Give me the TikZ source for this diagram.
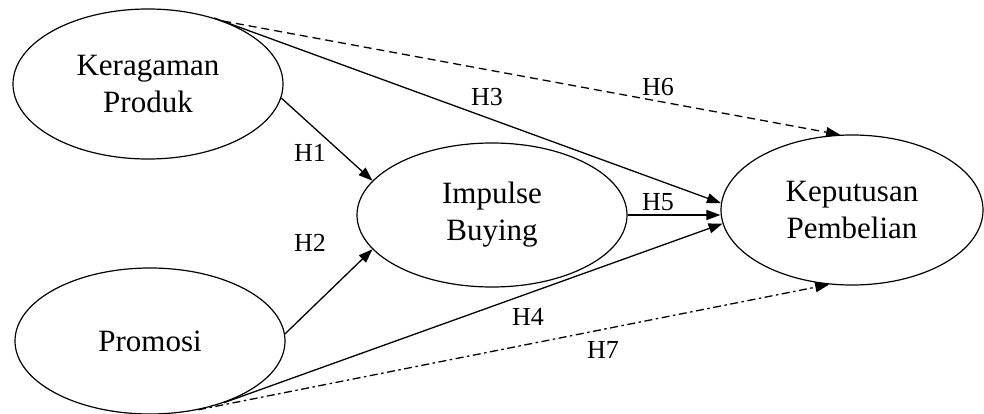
\documentclass[tikz,border=0pt]{standalone}
\usepackage{fontspec}
\setmainfont{Liberation Serif}
\usetikzlibrary{shapes.geometric,arrows.meta}
\begin{document}
\begin{tikzpicture}[x=1pt,y=-1pt,
  var/.style={ellipse,draw,line width=1.2pt,inner sep=0pt,align=center,
    font=\fontsize{31}{37}\selectfont},
  conn/.style={line width=1.3pt,-{Triangle[length=14pt,width=10pt]}},
  lbl/.style={font=\fontsize{26}{30}\selectfont,inner sep=0pt},
  dashline/.style={dash pattern=on 8pt off 5pt},
  dashdotline/.style={dash pattern=on 8pt off 3.5pt on 2.5pt off 3.5pt}]
\useasboundingbox (0,0) rectangle (984,414);
\node[var,minimum width=270pt,minimum height=150pt] (kp) at (148,84) {Keragaman\\Produk};
\node[var,minimum width=270pt,minimum height=146pt] (pr) at (150,341) {Promosi};
\node[var,minimum width=270pt,minimum height=144pt] (ib) at (492,215) {Impulse\\Buying};
\node[var,minimum width=262pt,minimum height=150pt] (kep) at (852,210) {Keputusan\\Pembelian};
\draw[conn] (kp.-6) -- (ib.164);
\draw[conn] (pr.3) -- (ib.196);
\draw[conn] (kp.45) -- (kep.177);
\draw[conn] (ib.east) -- (ib.east -| kep.west);
\draw[conn] (pr.-40) -- (kep.186.7);
\draw[conn,dashline] (kp.40) -- (kep.99);
\draw[conn,dashdotline] (pr.-55) -- (kep.253.6);
\node[lbl] (h1) at (310,153) {H1};
\node[lbl] (h2) at (310,243) {H2};
\node[lbl] (h3) at (487,97) {H3};
\node[lbl] (h6) at (658,87) {H6};
\node[lbl] (h5) at (658,202) {H5};
\node[lbl] (h4) at (528,317) {H4};
\node[lbl] (h7) at (603,350) {H7};
\end{tikzpicture}
\end{document}
